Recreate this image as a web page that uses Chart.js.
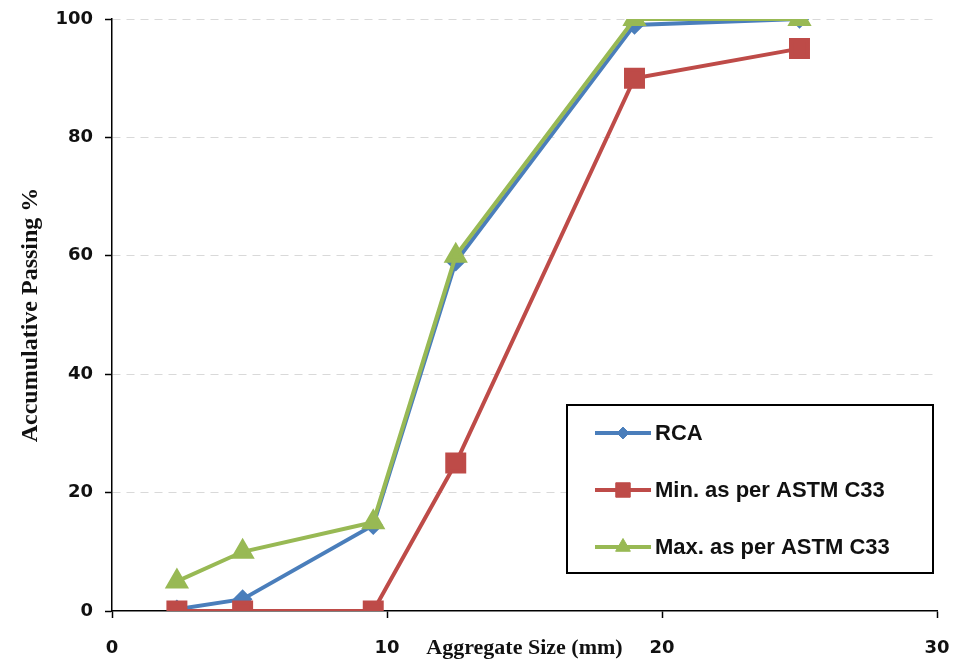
<!DOCTYPE html>
<html>
<head>
<meta charset="utf-8">
<script src="https://cdn.jsdelivr.net/npm/chart.js@4.4.1/dist/chart.umd.min.js"></script>
<style>
  html, body { margin: 0; padding: 0; background: #fff; }
  #wrap { width: 954px; height: 663px; }
</style>
</head>
<body>
<div id="wrap"><canvas id="chart" width="954" height="663"></canvas></div>
<script>
// sieve sizes (mm)
const sizes = [2.36, 4.75, 9.5, 12.5, 19, 25];
const rca = [0.3, 2, 14.5, 59, 99, 100];
const minC33 = [0, 0, 0, 25, 90, 95];
const maxC33 = [5, 10, 15, 60, 100, 100];
const xTicks = [0, 10, 20, 30];
const yTicks = [0, 20, 40, 60, 80, 100];

const labels = ["RCA", "Min. as per ASTM C33", "Max. as per ASTM C33"];
const colors = ["#4A7EBB", "#BE4B48", "#98B954"];

function toPoints(vals) {
  return sizes.map((s, i) => ({ x: s, y: vals[i] }));
}

// legend box drawn inside the plot
const boxLegend = {
  id: "boxLegend",
  afterDraw(chart) {
    const ctx = chart.ctx;
    ctx.save();
    ctx.strokeStyle = "#000";
    ctx.lineWidth = 2;
    ctx.fillStyle = "#fff";
    ctx.fillRect(567, 405, 366, 168);
    ctx.strokeRect(567, 405, 366, 168);
    chart.data.datasets.forEach((ds, i) => {
      const y = 433 + i * 57;
      ctx.strokeStyle = ds.borderColor;
      ctx.lineWidth = 4;
      ctx.beginPath();
      ctx.moveTo(595, y);
      ctx.lineTo(651, y);
      ctx.stroke();
      ctx.fillStyle = ds.backgroundColor;
      ctx.lineWidth = 1;
      Chart.helpers.drawPoint(ctx, {
        pointStyle: ds.pointStyle,
        radius: ds.pointRadius * 0.85,
        borderWidth: 1,
        rotation: 0
      }, 623, y);
      ctx.fillStyle = "#111";
      ctx.font = "bold 22px 'Liberation Sans', Arial, sans-serif";
      ctx.textBaseline = "middle";
      ctx.fillText(ds.label, 655, y + 1);
    });
    ctx.restore();
  }
};

const cfg = {
  type: "line",
  data: {
    datasets: [
      {
        label: labels[0], data: toPoints(rca), order: 3,
        borderColor: colors[0], backgroundColor: colors[0],
        borderWidth: 4, pointStyle: "rectRot", pointRadius: 7
      },
      {
        label: labels[1], data: toPoints(minC33), order: 2,
        borderColor: colors[1], backgroundColor: colors[1],
        borderWidth: 4, pointStyle: "rect", pointRadius: 12
      },
      {
        label: labels[2], data: toPoints(maxC33), order: 1,
        borderColor: colors[2], backgroundColor: colors[2],
        borderWidth: 4, pointStyle: "triangle", pointRadius: 10
      }
    ]
  },
  options: {
    responsive: false,
    animation: false,
    layout: { padding: { top: 19, right: 0, left: 0, bottom: 0 } },
    plugins: {
      legend: { display: false },
      tooltip: { enabled: false }
    },
    elements: { line: { tension: 0 }, point: { borderWidth: 1 } },
    scales: {
      x: {
        type: "linear",
        min: 0, max: 30,
        afterBuildTicks: (s) => { s.ticks = xTicks.map(v => ({ value: v })); },
        afterFit: (s) => { s.height = 52; s.paddingLeft = 0; s.paddingRight = 17; },
        grid: { drawOnChartArea: false, tickLength: 7, tickColor: "#000", tickWidth: 1.5 },
        border: { color: "#000", width: 1.5 },
        ticks: {
          color: "#111", padding: 20,
          font: { family: "'DejaVu Sans', Verdana, sans-serif", size: 18, weight: "bold" }
        },
        title: {
          display: true, text: "Aggregate Size (mm)", color: "#111",
          padding: { top: 0, bottom: 1 },
          font: { family: "'Liberation Serif', 'Times New Roman', serif", size: 22, weight: "bold" }
        }
      },
      y: {
        min: 0, max: 100,
        afterBuildTicks: (s) => { s.ticks = yTicks.map(v => ({ value: v })); },
        afterFit: (s) => { s.width = 112; s.paddingTop = 0; s.paddingBottom = 0; },
        grid: {
          color: (c) => (c.tick && c.tick.value === 0 ? "rgba(0,0,0,0)" : "#d9d9d9"),
          tickColor: "#000", tickLength: 7, tickWidth: 1.5, lineWidth: 1
        },
        border: { color: "#000", width: 1.5, dash: [8, 6] },
        ticks: {
          color: "#111", padding: 12,
          font: { family: "'DejaVu Sans', Verdana, sans-serif", size: 18, weight: "bold" }
        },
        title: {
          display: true, text: "Accumulative Passing %", color: "#111",
          padding: { top: 16, bottom: 0 },
          font: { family: "'Liberation Serif', 'Times New Roman', serif", size: 24, weight: "bold" }
        }
      }
    }
  },
  plugins: [boxLegend]
};

new Chart(document.getElementById("chart"), cfg);
</script>
</body>
</html>
